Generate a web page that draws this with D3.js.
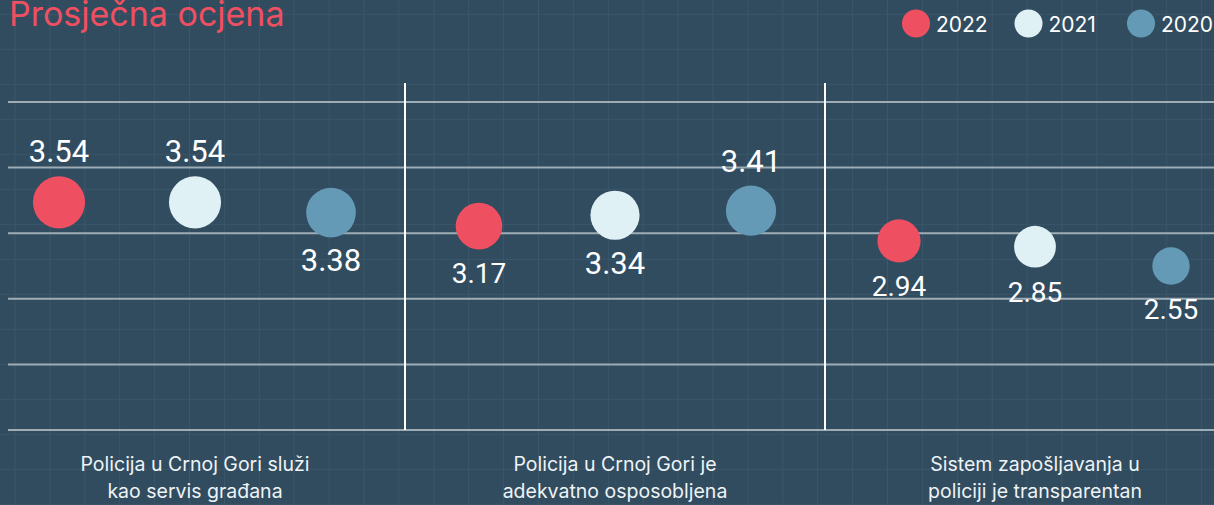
<!DOCTYPE html>
<html>
<head>
<meta charset="utf-8">
<script src="https://cdn.jsdelivr.net/npm/d3@7"></script>
<style>
  body { margin: 0; background: #314c5f; }
  svg { display: block; }
</style>
</head>
<body>
<svg id="chart"></svg>
<script>
// data
const categories = [
  ["Policija u Crnoj Gori služi", "kao servis građana"],
  ["Policija u Crnoj Gori je", "adekvatno osposobljena"],
  ["Sistem zapošljavanja u", "policiji je transparentan"]
];
const years = ["2022", "2021", "2020"];
const values2022 = [3.54, 3.17, 2.94];
const values2021 = [3.54, 3.34, 2.85];
const values2020 = [3.38, 3.41, 2.55];
const seriesValues = [values2022, values2021, values2020];

const colors = ["#ef5061", "#e0f1f6", "#659ab6"];

const W = 1214, H = 505;
const svg = d3.select("#chart").attr("width", W).attr("height", H);

// faint background grid
const bg = svg.append("g");
bg.selectAll("line.v").data(d3.range(0, 36)).join("line")
  .attr("x1", d => 15 + d * 34.9).attr("x2", d => 15 + d * 34.9)
  .attr("y1", 0).attr("y2", H)
  .attr("stroke", "#3a576b").attr("stroke-width", 1);
bg.selectAll("line.h").data(d3.range(0, 15)).join("line")
  .attr("y1", d => 14.3 + d * 35).attr("y2", d => 14.3 + d * 35)
  .attr("x1", 0).attr("x2", W)
  .attr("stroke", "#3a576b").attr("stroke-width", 1);

// scales
const x0 = d3.scaleBand().domain(d3.range(categories.length)).range([-15, 1245]);
const x1 = d3.scalePoint().domain(years).range([-136, 136]);
const y = d3.scaleLinear().domain([0, 5.1]).range([430, 102]);
const r = d3.scaleLinear().domain([2.5, 3.6]).range([18.3, 26.5]);

// horizontal gridlines
const gridY = d3.range(6).map(i => d3.interpolateNumber(y.range()[0], y.range()[1])(i / 5));
svg.append("g").selectAll("line").data(gridY).join("line")
  .attr("x1", 8).attr("x2", W)
  .attr("y1", d => d).attr("y2", d => d)
  .attr("stroke", "#9eacb5").attr("stroke-width", 2);

// column separators
svg.append("g").selectAll("line").data(d3.range(1, categories.length)).join("line")
  .attr("x1", d => x0(d)).attr("x2", d => x0(d))
  .attr("y1", 83).attr("y2", y(0))
  .attr("stroke", "#ffffff").attr("stroke-width", 2);

// points
const points = [];
categories.forEach((c, i) => {
  years.forEach((yr, j) => {
    points.push({ cat: i, year: yr, idx: j, v: seriesValues[j][i] });
  });
});

const cx = d => x0(d.cat) + x0.bandwidth() / 2 + x1(d.year);

svg.append("g").selectAll("circle").data(points).join("circle")
  .attr("cx", cx)
  .attr("cy", d => y(d.v))
  .attr("r", d => r(d.v))
  .attr("fill", d => colors[d.idx]);

svg.append("g").selectAll("text").data(points).join("text")
  .attr("x", cx)
  .attr("y", d => d.v >= 3.4 ? y(d.v) - r(d.v) - 14 : y(d.v) + r(d.v) + 34)
  .attr("text-anchor", "middle")
  .attr("fill", "#ffffff")
  .style("font-family", "Roboto, sans-serif")
  .style("font-size", d => d.v >= 3.3 ? "31px" : "28px")
  .text(d => d3.format(".2f")(d.v));

// category labels
const cl = svg.append("g").selectAll("text").data(categories).join("text")
  .attr("x", (d, i) => x0(i) + x0.bandwidth() / 2)
  .attr("y", 471)
  .attr("text-anchor", "middle")
  .attr("fill", "#eef3f6")
  .style("font-family", "Inter, sans-serif")
  .style("font-size", "19.5px");
cl.selectAll("tspan").data(d => d).join("tspan")
  .attr("x", function () { return d3.select(this.parentNode).attr("x"); })
  .attr("dy", (d, i) => i === 0 ? 0 : 27)
  .text(d => d);

// title
svg.append("text")
  .attr("x", 9).attr("y", 26)
  .attr("fill", "#ef5061")
  .style("font-family", "Inter, sans-serif")
  .style("font-size", "34px")
  .text("Prosječna ocjena");

// legend
const legendX = d3.scalePoint().domain(years).range([916, 1141]);
const lg = svg.append("g").selectAll("g").data(years).join("g")
  .attr("transform", d => `translate(${legendX(d)},23.5)`);
lg.append("circle").attr("r", 14).attr("fill", (d, i) => colors[i]);
lg.append("text")
  .attr("x", 20).attr("y", 8.5)
  .attr("fill", "#ffffff")
  .style("font-family", "Inter, sans-serif")
  .style("font-size", "21px")
  .text(d => d);
</script>
</body>
</html>
